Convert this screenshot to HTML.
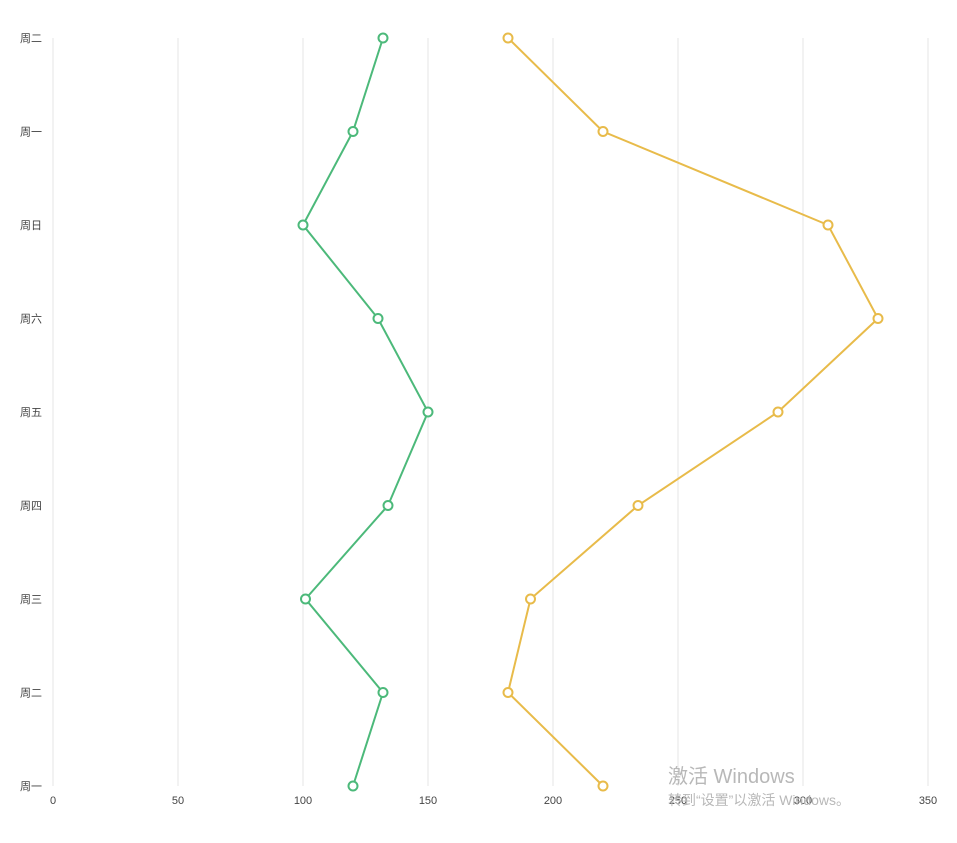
<!DOCTYPE html>
<html><head><meta charset="utf-8">
<style>
html,body{margin:0;padding:0;background:#fff;}
svg{display:block;font-family:"Liberation Sans","Noto Sans CJK SC",sans-serif;}
</style></head>
<body>
<svg id="chart" width="957" height="843" viewBox="0 0 957 843" xmlns="http://www.w3.org/2000/svg">
<g id="grid"></g>
<g id="xlabels"></g>
<g id="ylabels"></g>
<g id="series"></g>
<text x="668" y="783" font-size="20" fill="#b8b8b8">激活 Windows</text>
<text x="668" y="805" font-size="14" fill="#b8b8b8">转到“设置”以激活 Windows。</text>
</svg>
<script>
const categories = ["周一","周二","周三","周四","周五","周六","周日","周一","周二"];
const seriesA = [120,132,101,134,150,130,100,120,132];
const seriesB = [220,182,191,234,290,330,310,220,182];
const xTicks = [0,50,100,150,200,250,300,350];

const NS="http://www.w3.org/2000/svg";
const x0=53,x1=928,xMax=350,yBottom=786,yTop=38;
const xs=v=>x0+(v/xMax)*(x1-x0);
const ys=i=>yBottom-i*(yBottom-yTop)/(categories.length-1);
function mk(t,a,p){const e=document.createElementNS(NS,t);for(const k in a)e.setAttribute(k,a[k]);p.appendChild(e);return e;}
const grid=document.getElementById('grid'),xl=document.getElementById('xlabels'),yl=document.getElementById('ylabels'),sl=document.getElementById('series');
xTicks.forEach(t=>{
  const l=mk('line',{x1:xs(t),x2:xs(t),y1:yTop,y2:yBottom,stroke:'#e6e6e6','stroke-width':1},grid);
  
  
  const tx=mk('text',{x:xs(t),y:yBottom+18,'font-size':11,fill:'#444','text-anchor':'middle'},xl);
  tx.textContent=t;
  
  
});
categories.forEach((c,i)=>{
  const tx=mk('text',{x:20,y:ys(i)+4,'font-size':11,fill:'#444'},yl);
  tx.textContent=c;
  
  
});
function drawSeries(vals,color,name){
  const g=mk('g',{},sl);
  
  
  const pts=vals.map((v,i)=>xs(v)+','+ys(i)).join(' ');
  const pl=mk('polyline',{points:pts,fill:'none',stroke:color,'stroke-width':2},g);
  
  
  vals.forEach((v,i)=>{
    const c=mk('circle',{cx:xs(v),cy:ys(i),r:4.5,fill:'#fff',stroke:color,'stroke-width':2},g);
    
    
  });
}
drawSeries(seriesA,'#4cb97a','series-green');
drawSeries(seriesB,'#e8bb4a','series-yellow');
</script>
</body></html>
